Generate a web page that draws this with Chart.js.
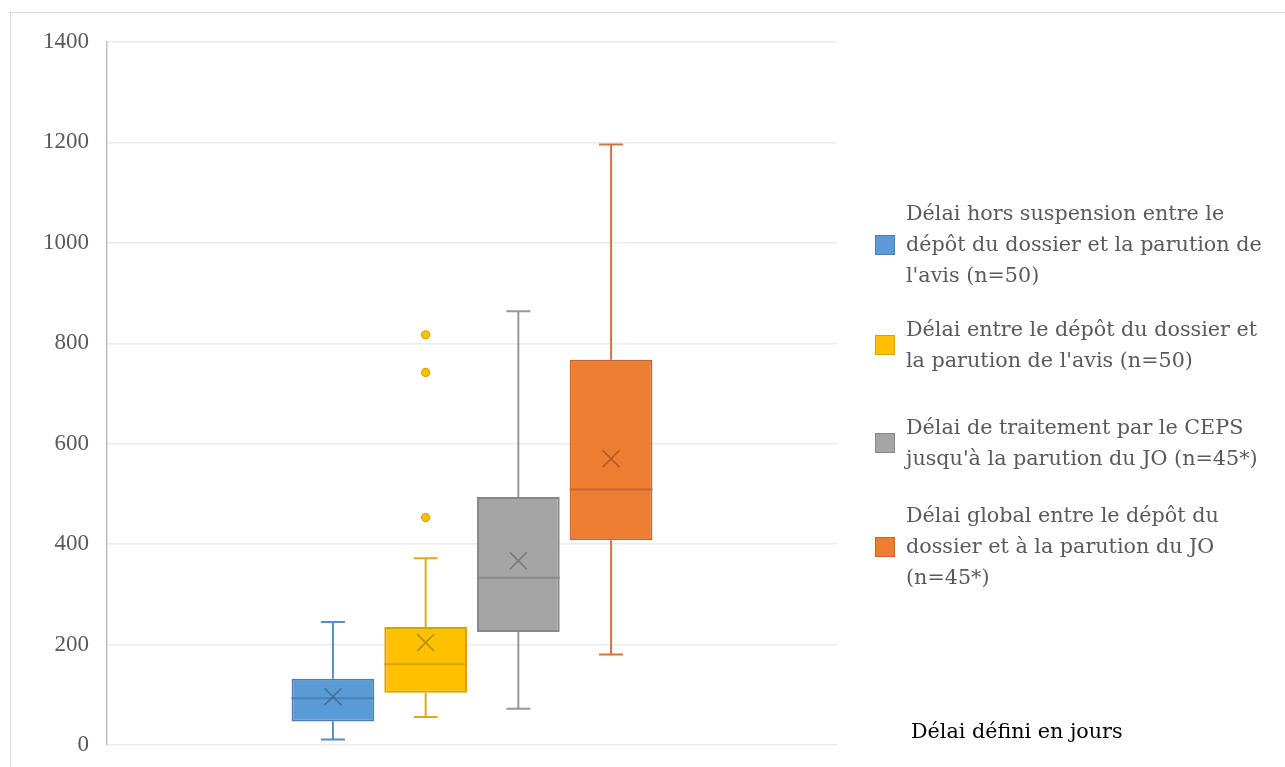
<!DOCTYPE html>
<html>
<head>
<meta charset="utf-8">
<script src="https://cdn.jsdelivr.net/npm/chart.js@4/dist/chart.umd.min.js"></script>
<style>
  html, body { margin: 0; padding: 0; background: #fff; }
  #wrap { position: relative; width: 1285px; height: 767px; overflow: hidden; font-family: "DejaVu Serif", serif; }
  #frame { position: absolute; left: 10px; top: 12px; width: 1300px; height: 800px; border: 1px solid #d9d9d9; box-sizing: border-box; }
  canvas { position: absolute; left: 0; top: 0; }
  .leg { position: absolute; left: 875px; color: #595959; font-size: 20.7px; line-height: 31px; }
  .sw { position: absolute; left: 0; width: 18px; height: 18px; border: 1px solid; }
  .lt { position: absolute; left: 31px; top: 0; white-space: nowrap; }
  #note { position: absolute; left: 911px; top: 716px; font-size: 20.7px; line-height: 31px; color: #000; white-space: nowrap; }
</style>
</head>
<body>
<div id="wrap">
  <div id="frame"></div>
  <canvas id="chart" width="1285" height="767"></canvas>
  <div id="legend"></div>
  <div id="note">Délai défini en jours</div>
</div>
<script>
// Series names (one entry per line of the legend label)
const seriesNames = [
  ["Délai hors suspension entre le", "dépôt du dossier et la parution de", "l'avis (n=50)"],
  ["Délai entre le dépôt du dossier et", "la parution de l'avis (n=50)"],
  ["Délai de traitement par le CEPS", "jusqu'à la parution du JO (n=45*)"],
  ["Délai global entre le dépôt du", "dossier et à la parution du JO", "(n=45*)"]
];

// Box-plot statistics, in days
const mins     = [11, 56, 72, 180];
const q1s      = [47, 104, 225, 408];
const medians  = [93, 161, 333, 509];
const means    = [96, 204, 367, 570];
const q3s      = [132, 235, 494, 767];
const maxs     = [245, 372, 864, 1196];
const outliers = [[], [453, 742, 817], [], []];

// Value axis
const yMin = 0;
const yMax = 1400;
const yStep = 200;

// Styles
const fills    = ["#5B9BD5", "#FFC000", "#A5A5A5", "#ED7D31"];
const borders  = ["#4A7FB5", "#D6A300", "#888888", "#C8662A"];
const whiskers = ["#5A8CC4", "#DDAA1C", "#999999", "#D27345"];
const marks    = ["rgba(55,95,140,0.75)", "rgba(170,125,0,0.75)", "rgba(105,105,105,0.75)", "rgba(160,75,25,0.75)"];

// Whiskers, medians, means and outliers drawn around the floating bars
const boxPlotExtras = {
  id: "boxPlotExtras",
  beforeDatasetsDraw(chart) {
    const ctx = chart.ctx, y = chart.scales.y;
    chart.data.datasets.forEach((ds, i) => {
      const bar = chart.getDatasetMeta(i).data[0];
      const x = bar.x, cap = 12;
      const pMax = y.getPixelForValue(maxs[i]);
      const pMin = y.getPixelForValue(mins[i]);
      ctx.save();
      ctx.strokeStyle = whiskers[i];
      ctx.lineWidth = 2;
      ctx.beginPath();
      ctx.moveTo(x, y.getPixelForValue(q3s[i])); ctx.lineTo(x, pMax);
      ctx.moveTo(x, y.getPixelForValue(q1s[i])); ctx.lineTo(x, pMin);
      ctx.moveTo(x - cap, pMax); ctx.lineTo(x + cap, pMax);
      ctx.moveTo(x - cap, pMin); ctx.lineTo(x + cap, pMin);
      ctx.stroke();
      ctx.restore();
    });
  },
  afterDatasetsDraw(chart) {
    const ctx = chart.ctx, y = chart.scales.y;
    chart.data.datasets.forEach((ds, i) => {
      const bar = chart.getDatasetMeta(i).data[0];
      const x = bar.x, half = bar.width / 2;
      ctx.save();
      // median
      const pMed = y.getPixelForValue(medians[i]);
      ctx.strokeStyle = borders[i];
      ctx.lineWidth = 2;
      ctx.beginPath();
      ctx.moveTo(x - half, pMed); ctx.lineTo(x + half, pMed);
      ctx.stroke();
      // mean
      const pMean = y.getPixelForValue(means[i]), s = 8.5;
      ctx.strokeStyle = marks[i];
      ctx.lineWidth = 1.6;
      ctx.beginPath();
      ctx.moveTo(x - s, pMean - s); ctx.lineTo(x + s, pMean + s);
      ctx.moveTo(x + s, pMean - s); ctx.lineTo(x - s, pMean + s);
      ctx.stroke();
      // outliers
      outliers[i].forEach(v => {
        ctx.beginPath();
        ctx.arc(x, y.getPixelForValue(v), 4, 0, Math.PI * 2);
        ctx.fillStyle = fills[i];
        ctx.fill();
        ctx.lineWidth = 1.2;
        ctx.strokeStyle = borders[i];
        ctx.stroke();
      });
      ctx.restore();
    });
  }
};

new Chart(document.getElementById("chart"), {
  type: "bar",
  data: {
    labels: [""],
    datasets: seriesNames.map((name, i) => ({
      label: name.join(" "),
      data: [[q1s[i], q3s[i]]],
      backgroundColor: fills[i],
      borderColor: borders[i],
      borderWidth: 2,
      borderSkipped: false,
      categoryPercentage: 0.508,
      barPercentage: 0.892
    }))
  },
  options: {
    responsive: false,
    animation: false,
    layout: { padding: { left: 0, top: 42, right: 448, bottom: 22 } },
    plugins: { legend: { display: false }, tooltip: { enabled: false } },
    scales: {
      x: { display: false },
      y: {
        min: yMin,
        max: yMax,
        ticks: {
          stepSize: yStep,
          color: "#595959",
          padding: 0,
          font: { family: "Liberation Serif", size: 23 },
          callback: v => String(v)
        },
        grid: { color: "#ececec", lineWidth: 1.5, drawTicks: true, tickLength: 18, tickColor: "rgba(0,0,0,0)" },
        border: { color: "#bfbfbf", width: 1.5 },
        afterFit(scale) { scale.width = 107; }
      }
    }
  },
  plugins: [boxPlotExtras]
});

// Legend at the right of the plot
const legendTops = [198, 314, 412, 500];
const legend = document.getElementById("legend");
seriesNames.forEach((lines, i) => {
  const item = document.createElement("div");
  item.className = "leg";
  item.style.top = legendTops[i] + "px";
  const sw = document.createElement("div");
  sw.className = "sw";
  sw.style.background = fills[i];
  sw.style.borderColor = borders[i];
  sw.style.top = (lines.length * 31 / 2 - 10) + "px";
  const lt = document.createElement("div");
  lt.className = "lt";
  lines.forEach((l, k) => {
    if (k) lt.appendChild(document.createElement("br"));
    lt.appendChild(document.createTextNode(l));
  });
  item.appendChild(sw);
  item.appendChild(lt);
  legend.appendChild(item);
});
</script>
</body>
</html>
